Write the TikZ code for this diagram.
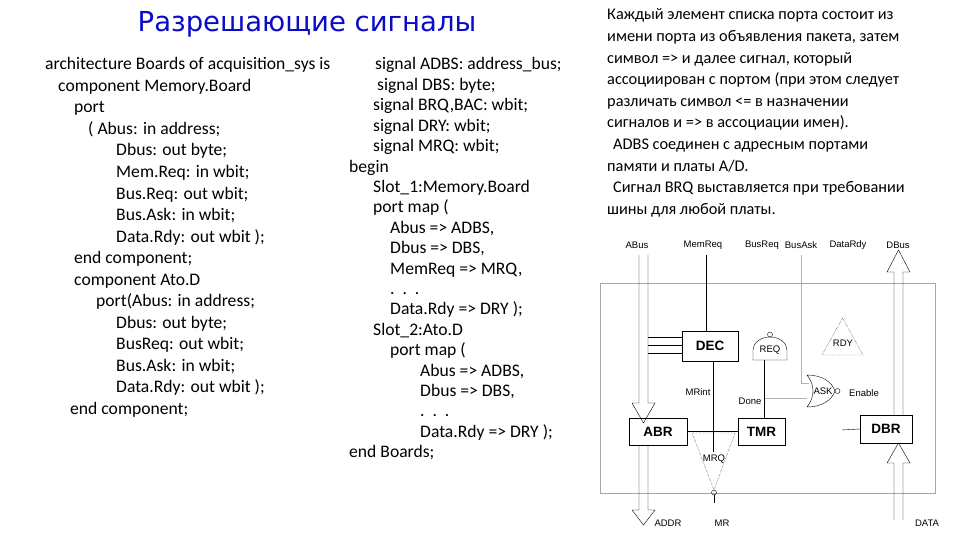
\documentclass[tikz,border=0pt]{standalone}
\usepackage{fontspec}
\setmainfont{Carlito}
\newfontfamily\arialf{Liberation Sans}
\newfontfamily\titlef{DejaVu Sans}
\definecolor{titleblue}{RGB}{10,10,200}
\begin{document}
\begin{tikzpicture}[x=1pt,y=-1pt,
  code/.style={anchor=base west,font=\fontsize{17.6}{15}\selectfont,inner sep=0},
  para/.style={anchor=base west,font=\fontsize{16.3}{14}\selectfont,inner sep=0},
  blk/.style={draw,thin,font=\arialf\bfseries\fontsize{13.5}{13}\selectfont,inner sep=0},
  lbl/.style={font=\arialf\fontsize{9.5}{9}\selectfont,inner sep=0},
  wire/.style={draw,thin},
  fat/.style={draw,thin}]
\useasboundingbox (0,0) rectangle (960,540);
\node[font=\titlef\fontsize{27.5}{27}\selectfont,text=titleblue,inner sep=0] (title) at (307,24) {Разрешающие сигналы};
% left column
\foreach \x/\t [count=\i from 0] in {45/architecture Boards of acquisition\_sys is,58/component Memory.Board,74/port,88/( Abus:  in  address;,116/Dbus:  out byte;,116/Mem.Req:  in  wbit;,116/Bus.Req:  out wbit;,116/Bus.Ask:  in  wbit;,116/Data.Rdy: out wbit );,74/end component;,74/component Ato.D,96/port(Abus:  in  address;,116/Dbus:  out byte;,116/BusReq:  out wbit;,116/Bus.Ask:  in  wbit;,116/Data.Rdy: out wbit );,70/end component;}
  \node[code] (l\i) at (\x,{70+21.5*\i}) {\t};
% right column
\foreach \x/\t [count=\i from 0] in {375/signal ADBS:  address\_bus;,377/signal DBS:  byte;,373/signal BRQ{,}BAC:  wbit;,373/signal DRY:  wbit;,373/signal MRQ:  wbit;,349/begin,373/Slot\_1:Memory.Board,373/port map (,390/Abus => ADBS{,},390/Dbus => DBS{,},390/MemReq => MRQ{,},390/.\ \ .\ \ .,390/Data.Rdy => DRY );,373/Slot\_2:Ato.D,390/port map (,420/Abus => ADBS{,},420/Dbus => DBS{,},420/.\ \ .\ \ .,420/Data.Rdy => DRY );,349/end Boards;}
  \node[code] (r\i) at (\x,{70+20.4*\i}) {\t};
% paragraph
\foreach \x/\t [count=\i from 0] in {607/Каждый элемент списка порта состоит из,607/имени порта из объявления пакета{,} затем,607/символ => и далее сигнал{,} который,607/ассоциирован с портом (при этом следует,607/различать символ <= в назначении,607/сигналов и => в ассоциации имен).,613/ADBS соединен с адресным портами,607/{памяти и платы A/D.},613/Сигнал BRQ выставляется при требовании,607/шины для любой платы.}
  \node[para] (p\i) at (\x,{20+21.6*\i}) {\t};
% diagram
\draw[gray!70] (600,283) rectangle (935,493);
\node[blk,minimum width=56pt,minimum height=30pt] (dec) at (710,346) {DEC};
\node[blk,minimum width=58pt,minimum height=27pt] (abr) at (658,431.5) {ABR};
\node[blk,minimum width=47pt,minimum height=27pt] (tmr) at (761.5,431.5) {TMR};
\node[blk,minimum width=52pt,minimum height=28pt] (dbr) at (886,429) {DBR};
% labels
\foreach \n/\x/\y/\t in {la/637/245/ABus,lm/703/245/MemReq,lb/762/245/BusReq,lk/801/245/BusAsk,ld/848/245/DataRdy,lu/898/245/DBus,ladr/668/523/ADDR,lmr/722/523/MR,ldat/927/523/DATA,lmi/698/392/MRint,ldn/750/401/Done,len/864/393/Enable}
  \node[lbl] (\n) at (\x,\y) {\t};
% fat arrows
\draw[fat] (639,255)--(639,403)--(632,403)--(643.5,423)--(655,403)--(648,403)--(648,255);
\draw[fat] (639,445)--(639,510)--(632,510)--(643.5,525)--(655,510)--(648,510)--(648,445);
\draw[fat] (894,415)--(894,272)--(887,272)--(898.5,250)--(910,272)--(903,272)--(903,415);
\draw[fat] (894,520)--(894,463)--(887,463)--(898.5,443)--(910,463)--(903,463)--(903,520);
% bus lines to DEC
\foreach \y in {337,345,353} \draw[wire] (648,\y)--(dec.west|-0,\y);
\draw[wire] (706,255)--(dec.north-|706,0);
\draw[wire] (abr.east)--(tmr.west);
% MRQ triangle
\draw[thin,densely dotted] (692,433)--(735,433)--(714,490)--cycle;
\node[lbl] (mrq) at (714,459) {MRQ};
\draw[thin] (714,492.5) circle (2.5);
\draw[wire] (dec.south-|713,0)--(713,452);
\draw[wire] (714,495)--(714,503);
% REQ gate
\draw[thin] (753,360)--(753,350) arc (180:360:17 and 13)--(787,360)--cycle;
\draw[thin] (770,334.5) circle (2.5);
\node[lbl] (req) at (770,350) {REQ};
\draw[wire] (764,360)--(tmr.north-|764,0);
\draw[gray!60] (765,398)--(807,398);
% ASK gate
\draw[thin] (807,375) .. controls (815,385) and (815,397) .. (807,407) .. controls (822,407) and (832,400) .. (835,391) .. controls (832,382) and (822,375) .. (807,375);
\draw[thin] (837.5,391) circle (2.5);
\node[lbl] (ask) at (823,391) {ASK};
\draw[gray!60] (801,255)--(801,383)--(809,383);
% RDY triangle
\draw[thin,densely dotted] (842.5,318)--(863,355)--(822,355)--cycle;
\node[lbl] (rdy) at (843,343) {RDY};
\draw[wire] (842,430)--(dbr.west);
\end{tikzpicture}
\end{document}
